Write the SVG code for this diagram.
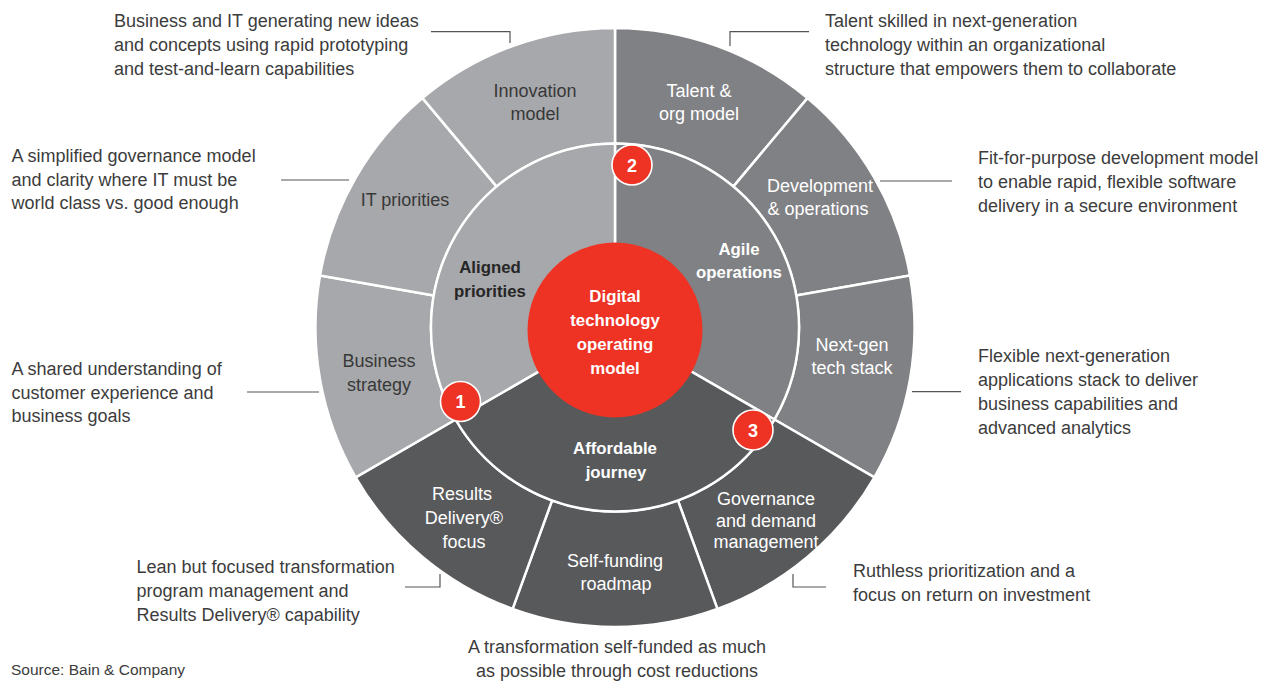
<svg xmlns="http://www.w3.org/2000/svg" width="1264" height="684" viewBox="0 0 1264 684">
<style>
.seg{stroke:#ffffff;stroke-width:2.5;stroke-linejoin:round}
.lt{fill:#a7a8ab}
.md{fill:#808184}
.dk{fill:#58595b}
.red{fill:#ee3224}
.lbl{font-family:"Liberation Sans",Arial,sans-serif;font-size:18px;text-anchor:middle}
.lbl-d{fill:#383838}
.lbl-w{fill:#ffffff}
.bold{font-family:"Liberation Sans",Arial,sans-serif;font-size:16.8px;font-weight:bold;text-anchor:middle}
.desc{font-family:"Liberation Sans",Arial,sans-serif;font-size:18px;fill:#3c3c3c}
.src{font-family:"Liberation Sans",Arial,sans-serif;font-size:15.5px;fill:#3c3c3c}
.lead{fill:none;stroke:#555555;stroke-width:1.2}
.badge{fill:#ee3224;stroke:#ffffff;stroke-width:1.6}
.num{font-family:"Liberation Sans",Arial,sans-serif;font-size:18px;font-weight:bold;fill:#ffffff;text-anchor:middle}
</style>
<rect width="1264" height="684" fill="#ffffff"/>

<!-- outer ring segments -->
<g id="talent">
<path class="seg md" d="M615,28 A299.5,299.5 0 0 1 807.5,98.1 L733.3,186.6 A184,184 0 0 0 615,143.5 Z"/>
<text class="lbl lbl-w" x="699" y="96.5">Talent &amp;</text>
<text class="lbl lbl-w" x="699" y="120">org model</text>
</g>
<g id="devops">
<path class="seg md" d="M807.5,98.1 A299.5,299.5 0 0 1 910,275.5 L796.2,295.6 A184,184 0 0 0 733.3,186.6 Z"/>
<text class="lbl lbl-w" x="820" y="191.5">Development</text>
<text class="lbl lbl-w" x="818" y="215">&amp; operations</text>
</g>
<g id="nextgen">
<path class="seg md" d="M910,275.5 A299.5,299.5 0 0 1 874.4,477.3 L774.4,419.5 A184,184 0 0 0 796.2,295.6 Z"/>
<text class="lbl lbl-w" x="852" y="350.5">Next-gen</text>
<text class="lbl lbl-w" x="852" y="374">tech stack</text>
</g>
<g id="governance">
<path class="seg dk" d="M874.4,477.3 A299.5,299.5 0 0 1 717.4,608.9 L677.9,500.4 A184,184 0 0 0 774.4,419.5 Z"/>
<text class="lbl lbl-w" x="766" y="505">Governance</text>
<text class="lbl lbl-w" x="766" y="526.5">and demand</text>
<text class="lbl lbl-w" x="766" y="547.5">management</text>
</g>
<g id="selffunding">
<path class="seg dk" d="M717.4,608.9 A299.5,299.5 0 0 1 512.6,608.9 L552.1,500.4 A184,184 0 0 0 677.9,500.4 Z"/>
<text class="lbl lbl-w" x="615" y="567">Self-funding</text>
<text class="lbl lbl-w" x="616" y="590">roadmap</text>
</g>
<g id="results">
<path class="seg dk" d="M512.6,608.9 A299.5,299.5 0 0 1 355.6,477.3 L455.6,419.5 A184,184 0 0 0 552.1,500.4 Z"/>
<text class="lbl lbl-w" x="462" y="500">Results</text>
<text class="lbl lbl-w" x="464" y="524">Delivery®</text>
<text class="lbl lbl-w" x="464" y="547.5">focus</text>
</g>
<g id="bizstrategy">
<path class="seg lt" d="M355.6,477.3 A299.5,299.5 0 0 1 320,275.5 L433.8,295.6 A184,184 0 0 0 455.6,419.5 Z"/>
<text class="lbl lbl-d" x="379" y="367">Business</text>
<text class="lbl lbl-d" x="379" y="391">strategy</text>
</g>
<g id="itpriorities">
<path class="seg lt" d="M320,275.5 A299.5,299.5 0 0 1 422.5,98.1 L496.7,186.6 A184,184 0 0 0 433.8,295.6 Z"/>
<text class="lbl lbl-d" x="405" y="206">IT priorities</text>
</g>
<g id="innovation">
<path class="seg lt" d="M422.5,98.1 A299.5,299.5 0 0 1 615,28 L615,143.5 A184,184 0 0 0 496.7,186.6 Z"/>
<text class="lbl lbl-d" x="535" y="96.5">Innovation</text>
<text class="lbl lbl-d" x="535" y="120">model</text>
</g>

<!-- middle ring segments -->
<g id="agile">
<path class="seg md" d="M615,327.5 L615,143.5 A184,184 0 0 1 774.4,419.5 Z"/>
<text class="bold" x="739" y="254.5" fill="#ffffff">Agile</text>
<text class="bold" x="739" y="278" fill="#ffffff">operations</text>
</g>
<g id="affordable">
<path class="seg dk" d="M615,327.5 L774.4,419.5 A184,184 0 0 1 455.6,419.5 Z"/>
<text class="bold" x="615" y="454" fill="#ffffff">Affordable</text>
<text class="bold" x="616" y="477.5" fill="#ffffff">journey</text>
</g>
<g id="aligned">
<path class="seg lt" d="M615,327.5 L455.6,419.5 A184,184 0 0 1 615,143.5 Z"/>
<text class="bold" x="490" y="273" fill="#262626">Aligned</text>
<text class="bold" x="490" y="297" fill="#262626">priorities</text>
</g>

<!-- center -->
<g id="center">
<circle class="red" cx="615" cy="330" r="87.5"/>
<text class="bold" x="615" y="302" fill="#ffffff">Digital</text>
<text class="bold" x="615" y="326" fill="#ffffff">technology</text>
<text class="bold" x="615" y="350" fill="#ffffff">operating</text>
<text class="bold" x="615" y="374" fill="#ffffff">model</text>
</g>

<!-- badges -->
<g id="badge1">
<circle class="badge" cx="460.5" cy="401.5" r="20"/>
<text class="num" x="460.5" y="408">1</text>
</g>
<g id="badge2">
<circle class="badge" cx="632" cy="165" r="20"/>
<text class="num" x="632" y="171.5">2</text>
</g>
<g id="badge3">
<circle class="badge" cx="753" cy="430" r="20"/>
<text class="num" x="753" y="436.5">3</text>
</g>

<!-- connectors -->
<g id="connectors">
<polyline class="lead" points="431,31.7 510,31.7 510,43"/>
<polyline class="lead" points="809,31.7 730,31.7 730,46"/>
<line class="lead" x1="281" y1="180" x2="349" y2="180"/>
<line class="lead" x1="247" y1="392" x2="319" y2="392"/>
<line class="lead" x1="880" y1="181" x2="952" y2="181"/>
<line class="lead" x1="912" y1="391.7" x2="961" y2="391.7"/>
<polyline class="lead" points="405,587 440,587 440,574"/>
<polyline class="lead" points="826,587 793,587 793,574"/>
</g>

<!-- descriptions -->
<g id="desc-innovation">
<text class="desc" x="114" y="26.5">Business and IT generating new ideas</text>
<text class="desc" x="114" y="50.5">and concepts using rapid prototyping</text>
<text class="desc" x="114" y="74.5">and test-and-learn capabilities</text>
</g>
<g id="desc-talent">
<text class="desc" x="825" y="26.5">Talent skilled in next-generation</text>
<text class="desc" x="825" y="50.5">technology within an organizational</text>
<text class="desc" x="825" y="74.5">structure that empowers them to collaborate</text>
</g>
<g id="desc-itpriorities">
<text class="desc" x="11.5" y="162">A simplified governance model</text>
<text class="desc" x="11.5" y="185.5">and clarity where IT must be</text>
<text class="desc" x="11.5" y="209">world class vs. good enough</text>
</g>
<g id="desc-bizstrategy">
<text class="desc" x="11.5" y="375">A shared understanding of</text>
<text class="desc" x="11.5" y="398.5">customer experience and</text>
<text class="desc" x="11.5" y="422">business goals</text>
</g>
<g id="desc-devops">
<text class="desc" x="978" y="164">Fit-for-purpose development model</text>
<text class="desc" x="978" y="187.5">to enable rapid, flexible software</text>
<text class="desc" x="978" y="211.5">delivery in a secure environment</text>
</g>
<g id="desc-nextgen">
<text class="desc" x="978" y="362">Flexible next-generation</text>
<text class="desc" x="978" y="386">applications stack to deliver</text>
<text class="desc" x="978" y="410">business capabilities and</text>
<text class="desc" x="978" y="433.5">advanced analytics</text>
</g>
<g id="desc-results">
<text class="desc" x="136.5" y="573">Lean but focused transformation</text>
<text class="desc" x="136.5" y="597">program management and</text>
<text class="desc" x="136.5" y="620.5">Results Delivery® capability</text>
</g>
<g id="desc-governance">
<text class="desc" x="853" y="577">Ruthless prioritization and a</text>
<text class="desc" x="853" y="601">focus on return on investment</text>
</g>
<g id="desc-selffunding">
<text class="desc" x="617" y="653" text-anchor="middle">A transformation self-funded as much</text>
<text class="desc" x="617" y="677" text-anchor="middle">as possible through cost reductions</text>
</g>
<g id="source">
<text class="src" x="11" y="675">Source: Bain &amp; Company</text>
</g>
</svg>
